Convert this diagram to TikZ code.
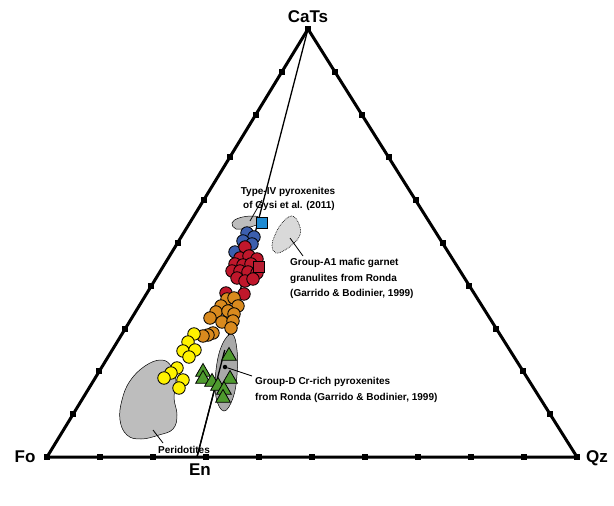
\documentclass[tikz,border=0pt]{standalone}
\usepackage{fontspec}
\setmainfont{Liberation Sans}
\usetikzlibrary{shapes.geometric,calc}
\definecolor{ptblue}{HTML}{3C5FAE}
\definecolor{sqblue}{HTML}{1E8AD2}
\definecolor{ptred}{HTML}{C0172B}
\definecolor{sqred}{HTML}{B81E32}
\definecolor{ptorange}{HTML}{D98A1E}
\definecolor{ptyellow}{HTML}{FFF200}
\definecolor{ptgreen}{HTML}{4E9A2E}
\definecolor{blobgray}{HTML}{BDBDBD}
\definecolor{ellgray}{HTML}{A9A9A9}
\definecolor{lightblob}{HTML}{D9D9D9}
\begin{document}
\begin{tikzpicture}[x=1pt,y=-1pt,
  ticksq/.style={rectangle,fill=black,inner sep=0pt,minimum size=6pt},
  side/.style={line width=3pt,line join=miter},
  pt/.style={circle,draw=black,line width=0.8pt,inner sep=0pt,minimum size=12.5pt},
  bluept/.style={pt,fill=ptblue},
  redpt/.style={pt,fill=ptred},
  orangept/.style={pt,fill=ptorange},
  yellowpt/.style={pt,fill=ptyellow},
  sqpt/.style={rectangle,draw=black,line width=1pt,inner sep=0pt,minimum size=11pt},
  tript/.style={regular polygon,regular polygon sides=3,draw=black,line width=0.8pt,fill=ptgreen,inner sep=0pt,minimum size=17pt},
  blob/.style={draw=black,line width=0.5pt,fill=blobgray},
  leader/.style={line width=0.8pt},
  lab/.style={font=\bfseries\fontsize{10}{12}\selectfont,inner sep=0pt},
  vlab/.style={font=\bfseries\fontsize{17}{20}\selectfont,inner sep=0pt}]
\useasboundingbox (0,0) rectangle (614,506);
\fill[white] (0,0) rectangle (614,506);

% vertices
\coordinate (Fo) at (47,457);
\coordinate (Qz) at (577,457);
\coordinate (CaTs) at (308,29);
\coordinate (En) at (197,457);

% triangle
\draw[side] (Fo) -- (Qz) -- (CaTs) -- cycle;
\draw[line width=1.3pt] (CaTs) -- (En);

% ticks
\foreach \i in {0,...,10} {
  \node[ticksq] (bt\i) at ($(Fo)!\i/10!(Qz)$) {};
}
\foreach \i in {1,...,9} {
  \node[ticksq] (lt\i) at ($(Fo)!\i/10!(CaTs)$) {};
  \node[ticksq] (rt\i) at ($(Qz)!\i/10!(CaTs)$) {};
}
\node[ticksq] (apx) at (CaTs) {};

% vertex labels
\node[vlab,anchor=base] (lCaTs) at (308,23) {CaTs};
\node[vlab,anchor=base] (lFo) at (25,462) {Fo};
\node[vlab,anchor=base] (lQz) at (597,462) {Qz};
\node[vlab,anchor=base] (lEn) at (200,475) {En};

% peridotites field
\draw[blob] plot[smooth cycle,tension=0.7] coordinates {(161,360) (171,366) (176,381) (174,398) (177,415) (173,429) (159,435) (141,439) (127,435) (120,420) (122,400) (130,381) (145,366)};
\coordinate (perA) at (153,430);
\node[lab,anchor=base] (lPer) at (184,453.5) {Peridotites};
\draw[leader] (perA) -- (163,443);

% Type-IV field
\draw[blob] plot[smooth cycle,tension=0.7] coordinates {(232,223) (239,218) (252,216) (260,218) (258,224) (246,228) (236,229)};
\coordinate (t4A) at (250,221);
\coordinate (t4B) at (262,200);
\draw[leader] (t4A) -- (t4B);
\node[lab,anchor=base] (lT4a) at (288,194) {Type-IV pyroxenites};
\node[lab,anchor=base] (lT4b) at (289,208.5) {of Gysi et al. (2011)};

% Group-A1 field
\draw[fill=lightblob,densely dotted,line width=0.7pt] plot[smooth cycle,tension=0.7] coordinates {(292,216) (299,224) (300,235) (294,243) (285,250) (276,253) (272,246) (275,235) (282,223)};
\coordinate (a1A) at (290,238);
\coordinate (a1B) at (303,256);
\draw[leader] (a1A) -- (a1B);
\node[lab,anchor=base west] (lA1a) at (290,265.3) {Group-A1 mafic garnet};
\node[lab,anchor=base west] (lA1b) at (290,281) {granulites from Ronda};
\node[lab,anchor=base west] (lA1c) at (290,296.3) {(Garrido \& Bodinier, 1999)};

% Group-D field
\draw[blob,fill=ellgray] plot[smooth cycle,tension=0.7] coordinates {(232,334) (237,350) (237,375) (233,398) (224,411) (216,397) (216,370) (222,345)};
\draw[line width=1.3pt] ($(CaTs)!0.75!(En)$) -- (En);

% points
\foreach \x/\y [count=\i] in {247/233,254/237,243/241,252/244,235/252}
  \node[bluept] (b\i) at (\x,\y) {};
\foreach \x/\y [count=\i] in {245/247,240/258,249/256,257/259,235/264,243/265,251/264,232/271,240/271,248/272,257/273,237/278,245/281,253/279,226/293,244/294}
  \node[redpt] (r\i) at (\x,\y) {};
\foreach \x/\y [count=\i] in {227/299,234/298,221/306,238/306,216/312,228/311,210/318,234/314,222/322,233/321,231/328,213/333,208/335,203/336}
  \node[orangept] (o\i) at (\x,\y) {};
\foreach \x/\y [count=\i] in {194/334,188/342,183/351,195/350,189/357,177/368,171/373,164/378,183/380,179/388}
  \node[yellowpt] (y\i) at (\x,\y) {};
\foreach \x/\y [count=\i] in {229/356,203/372,203/379,212/382,230/379,218/386,224/390,223/398}
  \node[tript] (g\i) at (\x,\y) {};

\node[sqpt,fill=sqblue] (sqB) at (262,223) {};
\node[sqpt,fill=sqred] (sqR) at (259,267) {};

% Group-D leader and label
\node[circle,fill=black,inner sep=0pt,minimum size=4.5pt] (dDot) at (225,367) {};
\coordinate (dB) at (252,376);
\draw[leader] (dDot) -- (dB);
\node[lab,anchor=base west] (lDa) at (255,384.3) {Group-D Cr-rich pyroxenites};
\node[lab,anchor=base west] (lDb) at (255,400.3) {from Ronda (Garrido \& Bodinier, 1999)};
\end{tikzpicture}
\end{document}
